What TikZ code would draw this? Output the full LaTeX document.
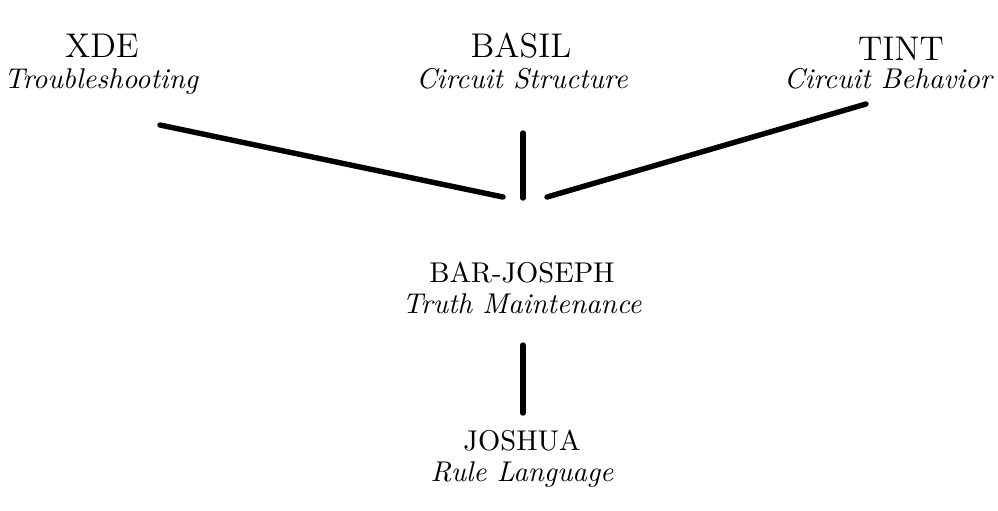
\documentclass[tikz,border=0pt]{standalone}
\usetikzlibrary{positioning}

\tikzset{
  system/.style={anchor=base,font=\fontsize{12}{14}\selectfont},
  role/.style={anchor=base,font=\itshape},
  link/.style={line width=1.9pt,line cap=round}
}

\begin{document}
\begin{tikzpicture}[x=0.35pt,y=-0.35pt]
    \useasboundingbox (0,0) rectangle (998,510);
    % top row: the three client systems
    \node[system] (xde)   at (102,57) {XDE};
    \node[role]   (xdeR)  at (101,88) {Troubleshooting};
    \node[system] (basil) at (521,57) {BASIL};
    \node[role]   (basilR) at (522,88) {Circuit Structure};
    \node[system] (tint)  at (901,60) {TINT};
    \node[role]   (tintR) at (888,88) {Circuit Behavior};
    % truth maintenance and the rule language below it
    \node[system,font=\normalsize] (bar) at (522,282) {BAR-JOSEPH};
    \node[role]   (barR)  at (522,313) {Truth Maintenance};
    \node[system,font=\normalsize] (joshua) at (522,450) {JOSHUA};
    \node[role]   (joshuaR) at (522,481) {Rule Language};
    % end points of the links
    \coordinate (xdeE)   at (160,125);
    \coordinate (basilE) at (523,133);
    \coordinate (tintE)  at (866,104);
    \coordinate (barL)   at (503,197);
    \coordinate (barT)   at (523,198);
    \coordinate (barRt)  at (547,197);
    \coordinate (barB)   at (523,345);
    \coordinate (joshuaT) at (523,413);
    \draw[link] (xdeE) -- (barL);
    \draw[link] (basilE) -- (barT);
    \draw[link] (tintE) -- (barRt);
    \draw[link] (barB) -- (joshuaT);
\end{tikzpicture}
\end{document}
